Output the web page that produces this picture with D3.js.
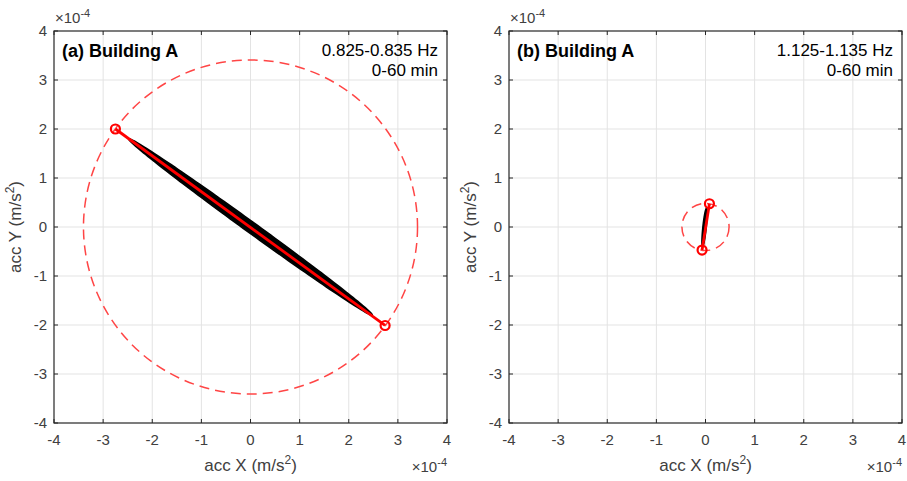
<!DOCTYPE html>
<html>
<head>
<meta charset="utf-8">
<script src="https://cdn.jsdelivr.net/npm/d3@7"></script>
<style>
  body { margin: 0; background: #fff; }
  svg { display: block; font-family: "Liberation Sans", Arial, sans-serif; }
</style>
</head>
<body>
<script>
"use strict";

// values in units of 1e-4 m/s^2
const ticks = [-4, -3, -2, -1, 0, 1, 2, 3, 4];
const panel_titles = ["(a) Building A", "(b) Building A"];
const freq_bands = ["0.825-0.835 Hz", "1.125-1.135 Hz"];
const time_windows = ["0-60 min", "0-60 min"];
const circle_radius = [3.40, 0.48];
const principal_axis = [
    [[-2.75, 2.00], [2.74, -2.01]],
    [[0.08, 0.475], [-0.07, -0.47]]
];
const orbit_tips = [
    [[-2.48, 1.80], [2.48, -1.80]],
    [[0.02, 0.38], [-0.06, -0.40]]
];
const orbit_half_width = [0.11, 0.035];

const wSvg = 907, hSvg = 481;
const panel_left = [54, 509];
const wViz = 393, yTop = 31, hViz = 392;

let svg = d3.select("body").append("svg")
    .attr("width", wSvg).attr("height", hSvg);

panel_titles.forEach((title, i) => draw_panel(i));

function draw_panel (i) {
    let xScale = d3.scaleLinear().domain([-4, 4]).range([0, wViz]);
    let yScale = d3.scaleLinear().domain([-4, 4]).range([hViz, 0]);

    let g = svg.append("g")
        .attr("transform", `translate(${panel_left[i]}, ${yTop})`);

    // grid
    g.append("g").selectAll("line")
        .data(ticks.slice(1, -1))
        .enter().append("line")
        .attr("x1", d => xScale(d)).attr("x2", d => xScale(d))
        .attr("y1", 0).attr("y2", hViz)
        .attr("stroke", "#e3e3e3").attr("stroke-width", 1);
    g.append("g").selectAll("line")
        .data(ticks.slice(1, -1))
        .enter().append("line")
        .attr("y1", d => yScale(d)).attr("y2", d => yScale(d))
        .attr("x1", 0).attr("x2", wViz)
        .attr("stroke", "#e3e3e3").attr("stroke-width", 1);

    // dashed circle
    g.append("circle")
        .attr("cx", xScale(0)).attr("cy", yScale(0))
        .attr("r", xScale(circle_radius[i]) - xScale(0))
        .attr("fill", "none")
        .attr("stroke", "#ff4545")
        .attr("stroke-width", 1.5)
        .attr("stroke-dasharray", "10,6");

    // orbit band (black)
    let [p0, p1] = orbit_tips[i];
    let cx = (p0[0] + p1[0]) / 2, cy = (p0[1] + p1[1]) / 2;
    let ux = (p1[0] - p0[0]) / 2, uy = (p1[1] - p0[1]) / 2;
    let len = Math.hypot(ux, uy);
    let vx = -uy / len * orbit_half_width[i], vy = ux / len * orbit_half_width[i];
    let outline = d3.range(0, 2 * Math.PI, Math.PI / 90).map(t => [
        cx + ux * Math.cos(t) + vx * Math.sin(t),
        cy + uy * Math.cos(t) + vy * Math.sin(t)
    ]);
    g.append("path")
        .datum(outline)
        .attr("d", d3.line().x(d => xScale(d[0])).y(d => yScale(d[1])).curve(d3.curveLinearClosed))
        .attr("fill", "#000")
        .attr("stroke", "#000")
        .attr("stroke-width", 1.5);

    // principal axis
    g.append("path")
        .datum(principal_axis[i])
        .attr("d", d3.line().x(d => xScale(d[0])).y(d => yScale(d[1])))
        .attr("stroke", "#ff0000")
        .attr("stroke-width", 2.8)
        .attr("fill", "none");

    g.append("g").selectAll("circle")
        .data(principal_axis[i])
        .enter().append("circle")
        .attr("cx", d => xScale(d[0])).attr("cy", d => yScale(d[1]))
        .attr("r", 4.5)
        .attr("fill", "none")
        .attr("stroke", "#ff0000")
        .attr("stroke-width", 2.2);

    // box + inner ticks
    g.append("rect")
        .attr("width", wViz).attr("height", hViz)
        .attr("fill", "none").attr("stroke", "#262626").attr("stroke-width", 1.2);

    let tick_g = g.append("g").attr("stroke", "#262626").attr("stroke-width", 1);
    ticks.forEach(t => {
        tick_g.append("line").attr("x1", xScale(t)).attr("x2", xScale(t)).attr("y1", hViz).attr("y2", hViz - 4);
        tick_g.append("line").attr("x1", xScale(t)).attr("x2", xScale(t)).attr("y1", 0).attr("y2", 4);
        tick_g.append("line").attr("y1", yScale(t)).attr("y2", yScale(t)).attr("x1", 0).attr("x2", 4);
        tick_g.append("line").attr("y1", yScale(t)).attr("y2", yScale(t)).attr("x1", wViz).attr("x2", wViz - 4);
    });

    // tick labels
    g.append("g").selectAll("text")
        .data(ticks)
        .enter().append("text")
        .text(d => d)
        .attr("x", d => xScale(d))
        .attr("y", hViz + 22)
        .attr("text-anchor", "middle")
        .attr("font-size", 15)
        .attr("fill", "#404040");
    g.append("g").selectAll("text")
        .data(ticks)
        .enter().append("text")
        .text(d => d)
        .attr("x", -7)
        .attr("y", d => yScale(d) + 5)
        .attr("text-anchor", "end")
        .attr("font-size", 15)
        .attr("fill", "#404040");

    // exponent labels
    add_exponent(g, 1, -8, "start");
    add_exponent(g, wViz, hViz + 49, "end");

    // axis labels
    let xl = g.append("text")
        .attr("x", wViz / 2).attr("y", hViz + 48)
        .attr("text-anchor", "middle")
        .attr("font-size", 17)
        .attr("fill", "#404040");
    add_unit(xl, "acc X (m/s");

    let yl = g.append("text")
        .attr("transform", `translate(-33, ${hViz / 2}) rotate(-90)`)
        .attr("text-anchor", "middle")
        .attr("font-size", 17)
        .attr("fill", "#404040");
    add_unit(yl, "acc Y (m/s");

    // annotations
    g.append("text")
        .text(panel_titles[i])
        .attr("x", 8).attr("y", 26)
        .attr("font-size", 18)
        .attr("font-weight", "bold")
        .attr("fill", "#000");
    g.append("text")
        .text(freq_bands[i])
        .attr("x", wViz - 9).attr("y", 25)
        .attr("text-anchor", "end")
        .attr("font-size", 17)
        .attr("fill", "#000");
    g.append("text")
        .text(time_windows[i])
        .attr("x", wViz - 9).attr("y", 45)
        .attr("text-anchor", "end")
        .attr("font-size", 17)
        .attr("fill", "#000");
}

function add_unit (text, base) {
    text.append("tspan").text(base);
    text.append("tspan").text("2").attr("dy", -7).attr("font-size", 12);
    text.append("tspan").text(")").attr("dy", 7);
}

function add_exponent (g, x, y, anchor) {
    let t = g.append("text")
        .attr("x", x).attr("y", y)
        .attr("text-anchor", anchor)
        .attr("font-size", 15)
        .attr("fill", "#404040");
    t.append("tspan").text("\u00d710");
    t.append("tspan").text("-4").attr("dy", -6).attr("font-size", 11);
}
</script>
</body>
</html>
